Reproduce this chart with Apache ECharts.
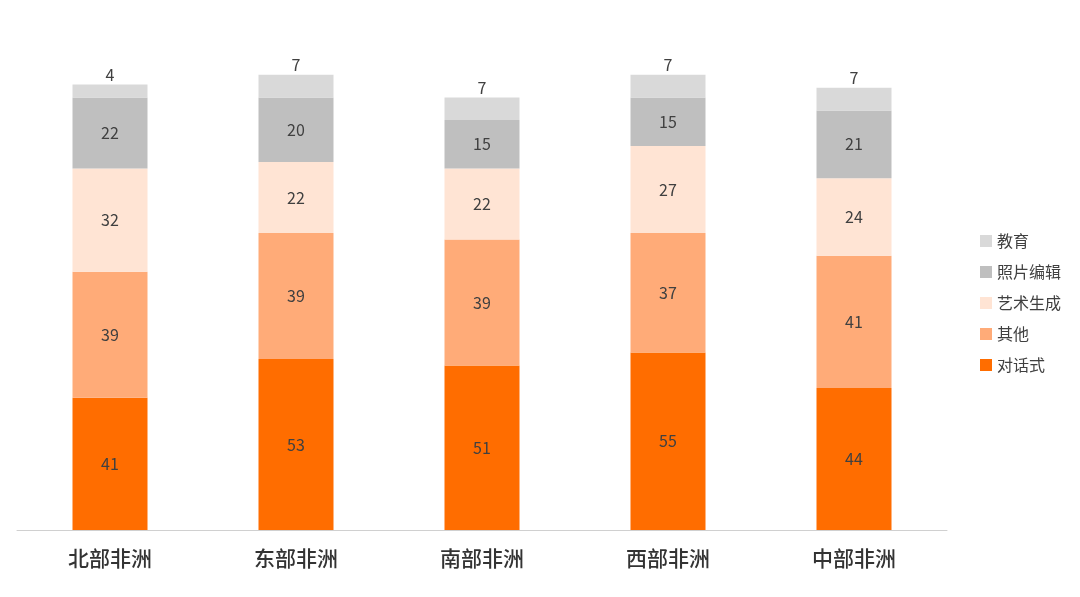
<!DOCTYPE html>
<html><head><meta charset="utf-8">
<script src="https://cdn.jsdelivr.net/npm/echarts@6/dist/echarts.min.js"></script>
<style>html,body{margin:0;background:#fff}#c{width:1080px;height:597px}</style>
</head><body><div id="c"></div>
<script>
var regions = ['北部非洲', '东部非洲', '南部非洲', '西部非洲', '中部非洲'];
var dialog = [41, 53, 51, 55, 44];
var other = [39, 39, 39, 37, 41];
var art = [32, 22, 22, 27, 24];
var photo = [22, 20, 15, 15, 21];
var edu = [4, 7, 7, 7, 7];

var chart = echarts.init(document.getElementById('c'));
function s(name, data, color, pos) {
    return {
        name: name, type: 'bar', stack: 'a', data: data, barWidth: 75,
        itemStyle: { color: color },
        label: { show: true, position: pos || 'inside', color: '#404040', fontSize: 16, fontFamily: 'Noto Sans CJK SC', distance: 2 }
    };
}
chart.setOption({
    animation: false,
    grid: { left: 17, right: 133, top: 20, bottom: 67 },
    legend: {
        orient: 'vertical', left: 975, top: 228, itemWidth: 12, itemHeight: 12, itemGap: 15,
        icon: 'rect',
        data: ['教育', '照片编辑', '艺术生成', '其他', '对话式'],
        textStyle: { fontSize: 16, color: '#404040', fontFamily: 'Noto Sans CJK SC' }
    },
    xAxis: {
        type: 'category', data: regions,
        axisTick: { show: false },
        axisLine: { lineStyle: { color: '#d0d0d0' } },
        axisLabel: { fontSize: 21, color: '#333', margin: 18, fontWeight: 500, fontFamily: 'Noto Sans CJK SC' }
    },
    yAxis: { type: 'value', min: 0, max: 158, show: false, splitLine: { show: false } },
    series: [
        s('对话式', dialog, '#FF6D00'),
        s('其他', other, '#FFAB78'),
        s('艺术生成', art, '#FFE4D4'),
        s('照片编辑', photo, '#BFBFBF'),
        s('教育', edu, '#D9D9D9', 'top')
    ]
});
</script></body></html>
